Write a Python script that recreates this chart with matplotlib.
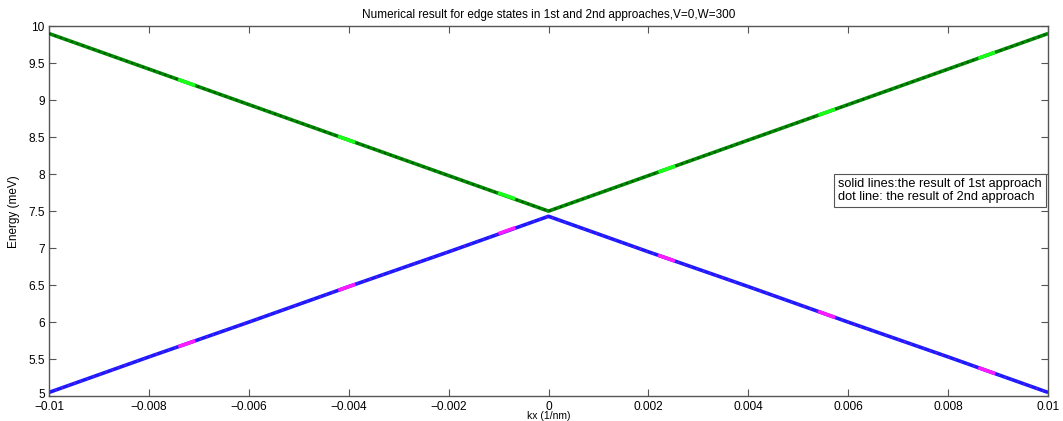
import matplotlib
matplotlib.use("Agg")
from matplotlib import pyplot as plt
from matplotlib import transforms

plt.rcParams['font.family'] = ['Liberation Sans', 'DejaVu Sans']

# kx samples (1/nm)
kx = [-0.01, -0.008, -0.006, -0.004, -0.002, 0, 0.002, 0.004, 0.006, 0.008, 0.01]

# 1st approach (solid lines)
e_upper_1 = [9.90, 9.42, 8.94, 8.46, 7.98, 7.50, 7.98, 8.46, 8.94, 9.42, 9.90]
e_lower_1 = [5.05, 5.53, 6.00, 6.48, 6.95, 7.43, 6.95, 6.48, 6.00, 5.53, 5.05]

# 2nd approach (dot lines)
e_upper_2 = [9.90, 9.42, 8.94, 8.46, 7.98, 7.51, 7.98, 8.46, 8.94, 9.42, 9.90]
e_lower_2 = [5.05, 5.53, 6.00, 6.48, 6.95, 7.44, 6.95, 6.48, 6.00, 5.53, 5.05]

fig = plt.figure(figsize=(10.63, 4.21), dpi=100)
ax = fig.add_axes([0.046, 0.059, 0.94, 0.879])

# solid lines
ax.plot(kx, e_upper_1, color=(0.0, 0.55, 0.0), lw=2.6, solid_capstyle='butt', zorder=2)
ax.plot(kx, e_lower_1, color=(0.1, 0.1, 1.0), lw=2.6, solid_capstyle='butt', zorder=2)
ax.plot(kx, e_upper_1, color=(0.0, 0.3, 0.0), lw=1.4, ls=(0, (1, 2)), zorder=3)
ax.plot(kx, e_lower_1, color=(0.45, 0.1, 0.9), lw=1.2, ls=(0, (1, 3)), zorder=3)

# dot lines
ax.plot(kx, e_upper_2, color=(0.1, 1.0, 0.1), lw=2.6, ls=(9, (5, 42)), zorder=4)
ax.plot(kx, e_lower_2, color=(1.0, 0.1, 1.0), lw=2.6, ls=(9, (5, 42)), zorder=4)

ax.set_xlim(-0.01, 0.01)
ax.set_ylim(5, 10)
ax.set_xticks([-0.01, -0.008, -0.006, -0.004, -0.002, 0, 0.002, 0.004, 0.006, 0.008, 0.01])
ax.set_xticklabels(['\u22120.01', '\u22120.008', '\u22120.006', '\u22120.004', '\u22120.002', '0',
                    '0.002', '0.004', '0.006', '0.008', '0.01'])
ax.set_yticks([5, 5.5, 6, 6.5, 7, 7.5, 8, 8.5, 9, 9.5, 10])
ax.set_yticklabels(['5', '5.5', '6', '6.5', '7', '7.5', '8', '8.5', '9', '9.5', '10'])

for s in ax.spines.values():
    s.set_color('#555555')
    s.set_linewidth(1.0)
ax.tick_params(direction='in', length=5, width=0.8, color='#555555', labelsize=8.6,
               top=True, right=True)
ax.tick_params(axis='x', pad=3.5)
ax.tick_params(axis='y', pad=3)

# lift the bottom y label a little so it clears -0.01
lbl = ax.get_yticklabels()[0]
lbl.set_transform(lbl.get_transform() + transforms.ScaledTranslation(0, 3 / 100, fig.dpi_scale_trans))

ax.set_xlabel('kx (1/nm)', fontsize=7.5)
ax.xaxis.set_label_coords(0.5, -0.04)
ax.set_ylabel('Energy (meV)', fontsize=8.5, labelpad=6)
ax.set_title('Numerical result for edge states in 1st and 2nd approaches,V=0,W=300',
             fontsize=8.5, pad=6)

ax.text(0.79, 0.556, 'solid lines:the result of 1st approach\ndot line: the result of 2nd approach',
        transform=ax.transAxes, fontsize=9.2, va='center', ha='left', linespacing=1.05,
        bbox=dict(boxstyle='square,pad=0.35', facecolor='white', edgecolor='#555555', lw=0.8),
        zorder=6)

fig.savefig('out.png', dpi=100)
